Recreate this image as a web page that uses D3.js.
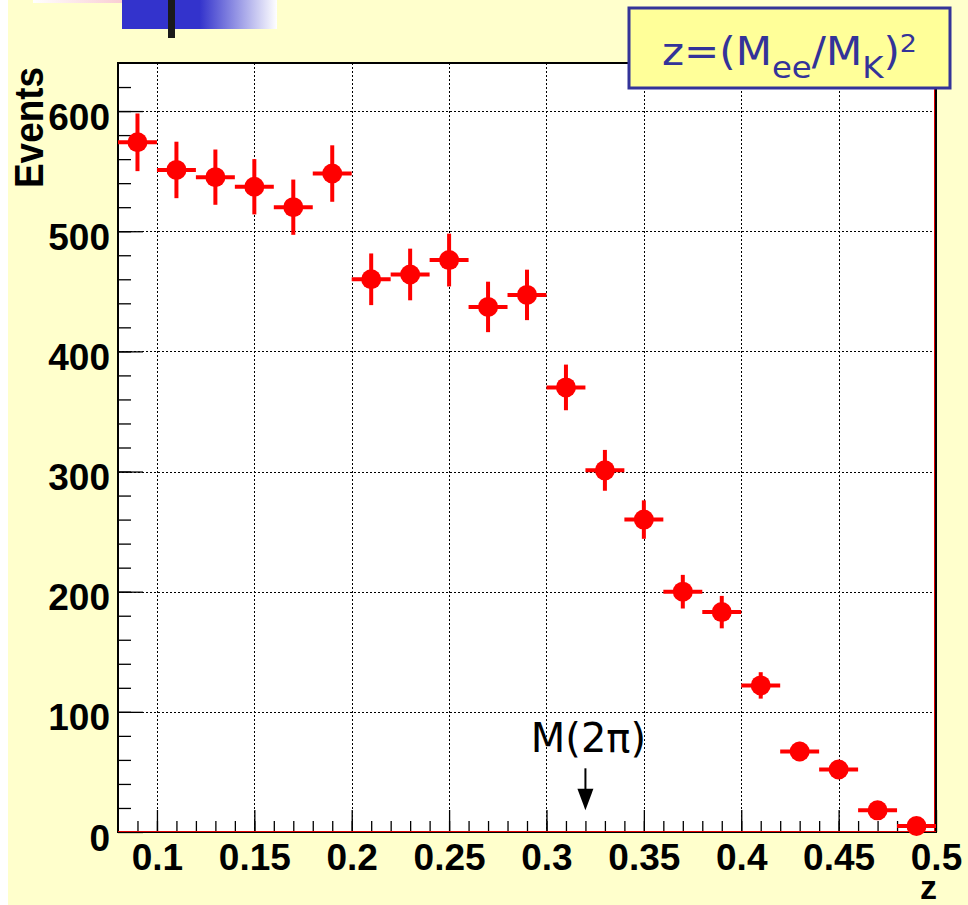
<!DOCTYPE html>
<html>
<head>
<meta charset="utf-8">
<script src="https://cdn.jsdelivr.net/npm/d3@7"></script>
<style>
  body { margin: 0; background: #ffffcc; }
  svg { display: block; }
</style>
</head>
<body>
<div id="chart"></div>
<script>
// data: bin centres (z), counts and their error bars
const zBins   = [0.09, 0.11, 0.13, 0.15, 0.17, 0.19, 0.21, 0.23, 0.25, 0.27, 0.29,
                 0.31, 0.33, 0.35, 0.37, 0.39, 0.41, 0.43, 0.45, 0.47, 0.49]
const counts  = [574, 551, 545, 537, 520, 548, 460, 464, 476, 437, 447,
                 370, 301, 260, 200, 183, 122, 67, 52, 18, 5]
const errors  = [24, 23.5, 23, 23, 23, 23.5, 21.5, 21.5, 22, 21, 21,
                 19, 17, 16, 14, 13.5, 11, 8, 7, 4, 2]
const binHalf = 0.01
const xTicks  = [0.1, 0.15, 0.2, 0.25, 0.3, 0.35, 0.4, 0.45, 0.5]
const yTicks  = [0, 100, 200, 300, 400, 500, 600]
const arrowZ  = 0.32

const W = 968, H = 905
const margin = { top: 63, right: 32, bottom: 73, left: 118 }
const width = W - margin.left - margin.right
const height = H - margin.top - margin.bottom

const svg = d3.select("#chart").append("svg")
    .attr("width", W)
    .attr("height", H)

// page background
svg.append("rect").attr("width", W).attr("height", H).attr("fill", "#ffffcc")
svg.append("rect").attr("width", 8).attr("height", H).attr("fill", "#ffffff")

// slide decoration top-left
const defs = svg.append("defs")
const gBlue = defs.append("linearGradient").attr("id", "gBlue")
gBlue.append("stop").attr("offset", "0.5").attr("stop-color", "#3333cc")
gBlue.append("stop").attr("offset", "1").attr("stop-color", "#ffffff")
const gPink = defs.append("linearGradient").attr("id", "gPink")
gPink.append("stop").attr("offset", "0").attr("stop-color", "#ffffff")
gPink.append("stop").attr("offset", "1").attr("stop-color", "#f7bcc4")
svg.append("rect").attr("x", 33).attr("y", 0).attr("width", 120).attr("height", 3).attr("fill", "url(#gPink)")
svg.append("rect").attr("x", 122).attr("y", 0).attr("width", 155).attr("height", 29).attr("fill", "url(#gBlue)")
svg.append("rect").attr("x", 168).attr("y", 0).attr("width", 7).attr("height", 38).attr("fill", "#1a1a1a")

const xScale = d3.scaleLinear().domain([0.08, 0.5]).range([0, width])
const yScale = d3.scaleLinear().domain([0, 640]).range([height, 0])

const plot = svg.append("g").attr("transform", `translate(${margin.left}, ${margin.top})`)

plot.append("rect").attr("width", width).attr("height", height).attr("fill", "#ffffff")

// dotted grid
plot.append("g").selectAll("line").data(xTicks.slice(0, -1)).enter().append("line")
    .attr("x1", d => Math.round(xScale(d)) + 0.5).attr("x2", d => Math.round(xScale(d)) + 0.5)
    .attr("y1", 0).attr("y2", height)
    .attr("stroke", "#000").attr("stroke-width", 1.6).attr("stroke-dasharray", "1.6,2.4")
    .attr("shape-rendering", "crispEdges")
plot.append("g").selectAll("line").data(yTicks.slice(1)).enter().append("line")
    .attr("x1", 0).attr("x2", width)
    .attr("y1", d => Math.round(yScale(d)) + 0.5).attr("y2", d => Math.round(yScale(d)) + 0.5)
    .attr("stroke", "#000").attr("stroke-width", 1.6).attr("stroke-dasharray", "1.6,2.4")
    .attr("shape-rendering", "crispEdges")

// axes, ticks pointing inward
const xMinor = d3.range(0.09, 0.5, 0.01)
plot.append("g")
    .attr("transform", `translate(0, ${height})`)
    .call(d3.axisBottom(xScale).tickValues(xMinor).tickSize(-11).tickFormat(""))
const xAxis = plot.append("g")
    .attr("class", "x-axis")
    .attr("transform", `translate(0, ${height})`)
    .call(d3.axisBottom(xScale).tickValues(xTicks).tickSize(-22).tickPadding(12)
        .tickFormat(d3.format("")))

const yMinor = d3.range(20, 640, 20)
plot.append("g")
    .call(d3.axisLeft(yScale).tickValues(yMinor).tickSize(-13).tickFormat(""))
const yAxis = plot.append("g")
    .attr("class", "y-axis")
    .call(d3.axisLeft(yScale).tickValues(yTicks).tickSize(-25).tickPadding(8))

plot.selectAll(".domain").remove()
plot.selectAll(".tick line").attr("stroke", "#000").attr("stroke-width", 1.3)
plot.selectAll(".x-axis text, .y-axis text")
    .attr("font-family", "'Liberation Sans', Arial, sans-serif")
    .attr("font-weight", "bold")
    .attr("font-size", 37)
    .attr("fill", "#000")
yAxis.selectAll("text").attr("dy", "0.49em")

// frame
plot.append("rect").attr("width", width).attr("height", height)
    .attr("fill", "none").attr("stroke", "#000").attr("stroke-width", 2)
plot.append("line").attr("x1", 0).attr("x2", width)
    .attr("y1", yScale(0) - 0.5).attr("y2", yScale(0) - 0.5)
    .attr("stroke", "#e00000").attr("stroke-width", 1)
plot.append("line").attr("x1", width - 1.5).attr("x2", width - 1.5)
    .attr("y1", 0).attr("y2", height)
    .attr("stroke", "#e00000").attr("stroke-width", 1)

// data points with error bars
const pts = plot.append("g").selectAll("g").data(zBins).enter().append("g")
pts.append("line")
    .attr("x1", d => xScale(d - binHalf)).attr("x2", d => xScale(d + binHalf))
    .attr("y1", (d, i) => yScale(counts[i])).attr("y2", (d, i) => yScale(counts[i]))
    .attr("stroke", "#ff0000").attr("stroke-width", 4)
pts.append("line")
    .attr("x1", d => xScale(d)).attr("x2", d => xScale(d))
    .attr("y1", (d, i) => yScale(counts[i] - errors[i])).attr("y2", (d, i) => yScale(counts[i] + errors[i]))
    .attr("stroke", "#ff0000").attr("stroke-width", 4)
pts.append("circle")
    .attr("cx", d => xScale(d))
    .attr("cy", (d, i) => yScale(counts[i]))
    .attr("r", 10)
    .attr("fill", "#ff0000")

// M(2pi) threshold arrow
const ax = xScale(arrowZ)
plot.append("line").attr("x1", ax).attr("x2", ax)
    .attr("y1", yScale(53)).attr("y2", yScale(30))
    .attr("stroke", "#000").attr("stroke-width", 2)
plot.append("path")
    .attr("d", `M${ax - 8},${yScale(36)} L${ax + 8},${yScale(36)} L${ax},${yScale(18)} Z`)
    .attr("fill", "#000")
plot.append("text")
    .attr("x", ax + 3).attr("y", yScale(66.5))
    .attr("text-anchor", "middle")
    .attr("font-family", "'DejaVu Sans', Verdana, sans-serif")
    .attr("font-size", 40)
    .attr("fill", "#000")
    .text("M(2π)")

// axis titles
svg.append("text")
    .attr("x", 937).attr("y", 899)
    .attr("text-anchor", "end")
    .attr("font-family", "'Liberation Sans', Arial, sans-serif")
    .attr("font-weight", "bold").attr("font-size", 34)
    .text("z")
svg.append("text")
    .attr("transform", "translate(43, 67) rotate(-90)")
    .attr("text-anchor", "end")
    .attr("font-family", "'Liberation Sans', Arial, sans-serif")
    .attr("font-weight", "bold").attr("font-size", 41)
    .attr("textLength", 121).attr("lengthAdjust", "spacingAndGlyphs")
    .text("Events")

// legend box
svg.append("rect")
    .attr("x", 629).attr("y", 8).attr("width", 321).attr("height", 80)
    .attr("fill", "#ffff99").attr("stroke", "#333399").attr("stroke-width", 3)
const leg = svg.append("g")
const lt = leg.append("text")
    .attr("x", 0).attr("y", 0)
    .attr("font-family", "'DejaVu Sans', Verdana, sans-serif")
    .attr("font-size", 39)
    .attr("fill", "#333399")
lt.append("tspan").text("z=(M")
lt.append("tspan").attr("dy", 13).attr("font-size", 30).text("ee")
lt.append("tspan").attr("dy", -13).text("/M")
lt.append("tspan").attr("dy", 13).attr("font-size", 30).text("K")
lt.append("tspan").attr("dy", -13).text(")")
lt.append("tspan").attr("dy", -13).attr("font-size", 25).text("2")
const bb = lt.node().getBBox()
const sx = 255 / bb.width
leg.attr("transform", `translate(662, 65) scale(${sx}, 1) translate(${-bb.x}, 0)`)
</script>
</body>
</html>
